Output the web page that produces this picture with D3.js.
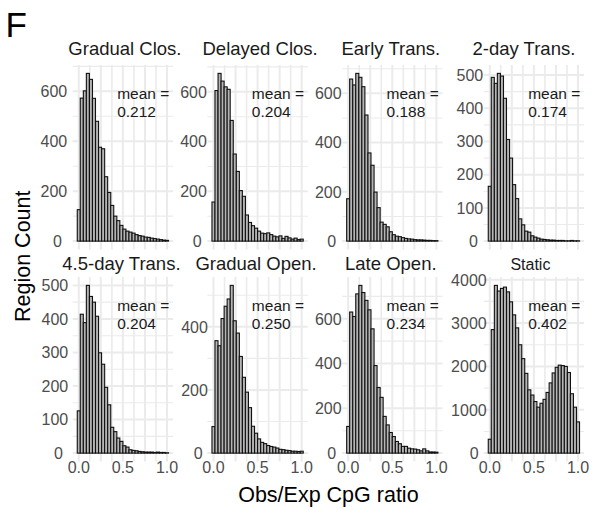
<!DOCTYPE html>
<html><head><meta charset="utf-8">
<script src="https://cdn.jsdelivr.net/npm/d3@7"></script>
<style>body{margin:0;background:#fff} svg{display:block}</style>
</head><body><svg id="c" width="592" height="510"></svg>
<script>
// ---------------- data ----------------
const categories = ["Gradual Clos.", "Delayed Clos.", "Early Trans.", "2-day Trans.",
                    "4.5-day Trans.", "Gradual Open.", "Late Open.", "Static"];
const meanLabels = ["0.212", "0.204", "0.188", "0.174", "0.204", "0.250", "0.234", "0.402"];
const binCenters = [0.000,0.034,0.069,0.103,0.138,0.172,0.207,0.241,0.276,0.310,
                    0.345,0.379,0.414,0.448,0.483,0.517,0.552,0.586,0.621,0.655,
                    0.690,0.724,0.759,0.793,0.828,0.862,0.897,0.931,0.966,1.000];
const binWidth = 0.0345;

const gradualClos = [126,573,602,672,648,572,480,376,370,258,195,143,100,82,63,48,40,36,32,26,22,20,16,15,12,10,8,6,4,3];
const delayedClos = [157,605,674,643,620,610,485,350,280,203,180,105,75,62,52,40,32,30,33,26,20,17,21,11,19,13,8,12,6,8];
const earlyTrans  = [172,658,634,681,665,627,512,358,308,199,136,77,68,58,38,26,20,18,14,11,9,8,6,5,5,4,3,3,2,2];
const twoDayTrans = [165,493,475,505,497,430,306,250,170,128,67,49,30,27,16,12,9,6,5,4,3,3,2,2,2,1,1,2,1,1];
const fourHalfDayTrans = [126,414,389,500,467,450,408,299,265,196,144,77,64,45,35,22,18,10,8,7,5,4,3,3,3,2,3,2,2,1];
const gradualOpen = [84,356,340,426,465,488,531,419,380,306,240,193,144,85,63,45,34,30,24,21,19,16,12,11,9,8,6,6,5,6];
const lateOpen    = [119,630,610,711,749,717,682,640,555,391,293,249,164,126,92,74,52,42,30,30,22,19,18,15,10,19,10,5,5,4];
const staticCounts = [320,2850,3870,3740,3800,3830,3720,3490,3190,2890,2500,2180,1840,1460,1340,1190,1060,1150,1240,1400,1620,1850,1980,2030,2020,2000,1860,1370,1060,720];

const seriesValues = [gradualClos, delayedClos, earlyTrans, twoDayTrans,
                      fourHalfDayTrans, gradualOpen, lateOpen, staticCounts];

const yTickValues = [[0,200,400,600],[0,200,400,600],[0,200,400,600],[0,100,200,300,400,500],
                     [0,100,200,300,400,500],[0,200,400],[0,200,400,600],[0,1000,2000,3000,4000]];
const xTickValues = [0, 0.5, 1];
const xTickLabels = ["0.0", "0.5", "1.0"];
const xGridValues = [0,0.125,0.25,0.375,0.5,0.625,0.75,0.875,1];
const xTitle = "Obs/Exp CpG ratio";
const yTitle = "Region Count";
const panelTag = "F";

// ---------------- layout ----------------
const FONT = "'Liberation Sans', Arial, Helvetica, sans-serif";
const colLeft = [72.7, 207.4, 342.1, 483.7];
const panelW = 100.4;
const rowTop = [65, 277];
const panelH = 184.5;
const stripBaseline = [55, 270];
const stripDx = [2, 2.5, -1.5, -10, -1.5, -1.5, -1.5, -3.5];
const stripSize = [18.5, 18.5, 18.5, 18.5, 18.5, 18.5, 18.5, 16];
const yLabGap = [5.5, 0.5, 0.5, 0.5, 4.5, -0.5, 0.5, -3];  // gap of widest label's right edge
const yLabHjust = 0.7;

const svg = d3.select("#c");
svg.append("rect").attr("width", 592).attr("height", 510).attr("fill", "#fff");

categories.forEach((cat, i) => {
  const row = Math.floor(i / 4), col = i % 4;
  const left = colLeft[col], top = rowTop[row];
  const vals = seriesValues[i];
  const maxV = d3.max(vals);
  const x = d3.scaleLinear().domain([-0.069, 1.069]).range([left, left + panelW]);
  const y = d3.scaleLinear().domain([-0.05 * maxV, 1.05 * maxV]).range([top + panelH, top]);
  const g = svg.append("g");

  // grid
  const ticks = yTickValues[i];
  const step = ticks[1] - ticks[0];
  const [d0, d1] = y.domain();
  const minors = [];
  for (let k = -1; k < ticks.length; k++) {
    const m = (k < 0 ? ticks[0] - step / 2 : ticks[k] + step / 2);
    if (m >= d0 && m <= d1) minors.push(m);
  }
  g.selectAll(".hmin").data(minors).join("line")
    .attr("x1", left).attr("x2", left + panelW)
    .attr("y1", d => y(d)).attr("y2", d => y(d))
    .attr("stroke", "#ebebeb").attr("stroke-width", 1.1);
  g.selectAll(".hmaj").data(ticks).join("line")
    .attr("x1", left).attr("x2", left + panelW)
    .attr("y1", d => y(d)).attr("y2", d => y(d))
    .attr("stroke", "#ebebeb").attr("stroke-width", 2);
  g.selectAll(".vg").data(xGridValues).join("line")
    .attr("x1", d => x(d)).attr("x2", d => x(d))
    .attr("y1", top).attr("y2", top + panelH)
    .attr("stroke", "#ebebeb").attr("stroke-width", (d, k) => k % 2 === 0 ? 2 : 1.6);

  // bars
  const bw = x(binWidth) - x(0);
  g.selectAll(".bar").data(vals).join("rect")
    .attr("x", (d, k) => x(binCenters[k] - binWidth / 2))
    .attr("width", bw)
    .attr("y", d => y(d))
    .attr("height", d => y(0) - y(d))
    .attr("fill", "#b5b5b5").attr("stroke", "#111").attr("stroke-width", 1.1);

  // y tick labels (ggplot-like partial justification)
  const yl = g.selectAll(".yl").data(ticks).join("text")
    .attr("y", d => y(d)).attr("dy", "0.36em")
    .attr("text-anchor", "start").attr("font-family", FONT).attr("font-size", 16)
    .attr("fill", "#4d4d4d").text(d => d);
  const widths = yl.nodes().map(n => n.getComputedTextLength());
  const wMax = d3.max(widths);
  const anchor = left - yLabGap[i] - (1 - yLabHjust) * wMax;
  yl.attr("x", (d, k) => anchor - yLabHjust * widths[k]);

  // x tick labels (bottom row only)
  if (row === 1) {
    g.selectAll(".xl").data(xTickValues).join("text")
      .attr("x", d => x(d)).attr("y", 473.3)
      .attr("text-anchor", "middle").attr("font-family", FONT).attr("font-size", 16)
      .attr("fill", "#4d4d4d").text((d, k) => xTickLabels[k]);
  }

  // strip
  g.append("text").attr("x", left + panelW / 2 + stripDx[i]).attr("y", stripBaseline[row])
    .attr("text-anchor", "middle").attr("font-family", FONT).attr("font-size", stripSize[i])
    .attr("fill", "#1a1a1a").text(cat);

  // mean annotation
  const mt = g.append("text").attr("font-family", FONT).attr("font-size", 15.5).attr("fill", "#1a1a1a");
  mt.append("tspan").attr("x", x(0.435)).attr("y", top + 33.5).text("mean =");
  mt.append("tspan").attr("x", x(0.435)).attr("y", top + 51.5).text(meanLabels[i]);
});

// titles
const plotMidX = (colLeft[0] + colLeft[3] + panelW) / 2;
svg.append("text").attr("x", plotMidX).attr("y", 502).attr("text-anchor", "middle")
  .attr("font-family", FONT).attr("font-size", 21.5).attr("fill", "#000").text(xTitle);
const plotMidY = (rowTop[0] + rowTop[1] + panelH) / 2 - 7;
svg.append("text").attr("transform", `translate(29.5,${plotMidY}) rotate(-90)`)
  .attr("text-anchor", "middle").attr("font-family", FONT).attr("font-size", 21.5)
  .attr("fill", "#000").text(yTitle);
svg.append("text").attr("x", 5.5).attr("y", 36.5).attr("font-family", FONT)
  .attr("font-size", 35).attr("fill", "#000").text(panelTag);
</script></body></html>
